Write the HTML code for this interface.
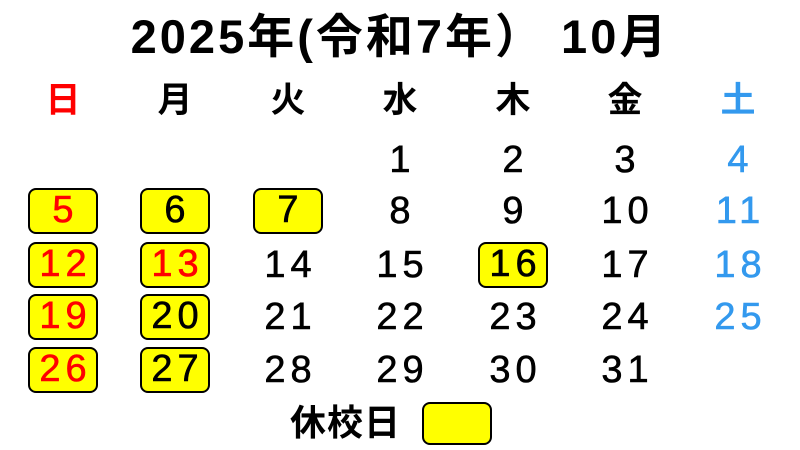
<!DOCTYPE html>
<html><head><meta charset="utf-8"><style>
body{margin:0;width:800px;height:450px;background:#fff;position:relative;overflow:hidden;font-family:"Liberation Sans","Noto Sans CJK JP",sans-serif}
.t{position:absolute;left:0;width:800px;top:12px;text-align:center;font-size:47px;font-weight:bold;line-height:50px;letter-spacing:3px}
.h{position:absolute;width:80px;margin-left:-40px;text-align:center;top:81px;font-size:35px;font-weight:bold;line-height:40px}
.c{position:absolute;width:70px;height:46px;margin-left:-35px;margin-top:-23px;text-align:center;font-size:38px;line-height:46px;box-sizing:border-box;font-family:"Liberation Sans","DejaVu Sans",sans-serif;letter-spacing:5px;text-indent:5px;-webkit-text-stroke:0.6px}
.b{background:#ff0;border:2.5px solid #000;border-radius:8px;line-height:41px;-webkit-text-stroke-color:currentColor}
.r{color:#f00}.bl{color:#3399ee}
.lg{position:absolute;left:290px;top:400px;font-size:36px;font-weight:bold;line-height:46px;letter-spacing:1px}
.lb{position:absolute;left:422px;top:402px;width:70px;height:43px;box-sizing:border-box;background:#ff0;border:2.5px solid #000;border-radius:8px}
</style></head><body>
<div class="t">2025年(令和7年）&nbsp;10月</div>
<div class="h r" style="left:63px">日</div>
<div class="h" style="left:175px">月</div>
<div class="h" style="left:288px">火</div>
<div class="h" style="left:400px">水</div>
<div class="h" style="left:513px">木</div>
<div class="h" style="left:625px">金</div>
<div class="h bl" style="left:738px">土</div>

<div class="c" style="left:400px;top:160px">1</div>
<div class="c" style="left:513px;top:160px">2</div>
<div class="c" style="left:625px;top:160px">3</div>
<div class="c bl" style="left:738px;top:160px">4</div>

<div class="c b r" style="left:63px;top:211px">5</div>
<div class="c b" style="left:175px;top:211px">6</div>
<div class="c b" style="left:288px;top:211px">7</div>
<div class="c" style="left:400px;top:211px">8</div>
<div class="c" style="left:513px;top:211px">9</div>
<div class="c" style="left:625px;top:211px">10</div>
<div class="c bl" style="left:738px;top:211px">11</div>

<div class="c b r" style="left:63px;top:265px">12</div>
<div class="c b r" style="left:175px;top:265px">13</div>
<div class="c" style="left:288px;top:265px">14</div>
<div class="c" style="left:400px;top:265px">15</div>
<div class="c b" style="left:513px;top:265px">16</div>
<div class="c" style="left:625px;top:265px">17</div>
<div class="c bl" style="left:738px;top:265px">18</div>

<div class="c b r" style="left:63px;top:317px">19</div>
<div class="c b" style="left:175px;top:317px">20</div>
<div class="c" style="left:288px;top:317px">21</div>
<div class="c" style="left:400px;top:317px">22</div>
<div class="c" style="left:513px;top:317px">23</div>
<div class="c" style="left:625px;top:317px">24</div>
<div class="c bl" style="left:738px;top:317px">25</div>

<div class="c b r" style="left:63px;top:370px">26</div>
<div class="c b" style="left:175px;top:370px">27</div>
<div class="c" style="left:288px;top:370px">28</div>
<div class="c" style="left:400px;top:370px">29</div>
<div class="c" style="left:513px;top:370px">30</div>
<div class="c" style="left:625px;top:370px">31</div>

<div class="lg">休校日</div>
<div class="lb"></div>
</body></html>
